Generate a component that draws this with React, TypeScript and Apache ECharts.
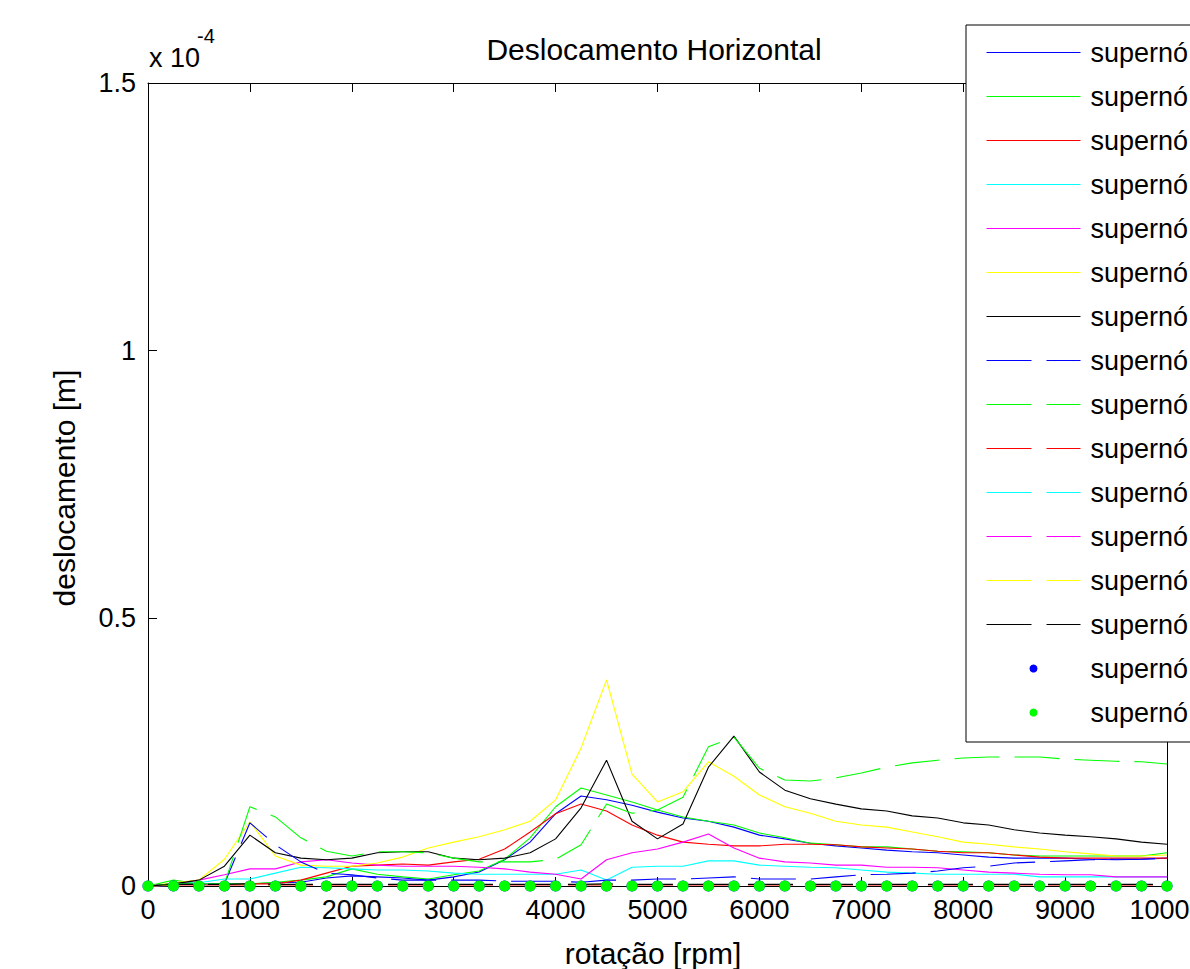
import React, { useEffect, useRef } from "react";
import * as echarts from "echarts";

// rotação [rpm]
const rpm = [0, 250, 500, 750, 1000, 1250, 1500, 1750, 2000, 2250, 2500, 2750, 3000, 3250, 3500, 3750, 4000, 4250, 4500, 4750, 5000, 5250, 5500, 5750, 6000, 6250, 6500, 6750, 7000, 7250, 7500, 7750, 8000, 8250, 8500, 8750, 9000, 9250, 9500, 9750, 10000];

// deslocamento, in units of 1e-4 m
const blueSolid = [0, 0.004, 0.004, 0.004, 0.004, 0.006, 0.007, 0.015, 0.019, 0.017, 0.015, 0.011, 0.017, 0.026, 0.049, 0.082, 0.135, 0.168, 0.161, 0.151, 0.138, 0.127, 0.121, 0.110, 0.095, 0.088, 0.080, 0.075, 0.071, 0.067, 0.064, 0.062, 0.058, 0.054, 0.052, 0.052, 0.052, 0.050, 0.049, 0.050, 0.052];
const greenSolid = [0, 0.011, 0.004, 0.004, 0.004, 0.007, 0.011, 0.017, 0.032, 0.022, 0.017, 0.013, 0.021, 0.028, 0.050, 0.090, 0.148, 0.183, 0.170, 0.157, 0.142, 0.129, 0.121, 0.114, 0.099, 0.090, 0.080, 0.077, 0.073, 0.073, 0.069, 0.065, 0.064, 0.062, 0.058, 0.056, 0.056, 0.056, 0.056, 0.056, 0.062];
const redSolid = [0, 0.002, 0.002, 0.002, 0.004, 0.004, 0.011, 0.024, 0.037, 0.039, 0.041, 0.039, 0.045, 0.050, 0.069, 0.101, 0.135, 0.153, 0.140, 0.114, 0.095, 0.082, 0.078, 0.075, 0.075, 0.078, 0.078, 0.077, 0.073, 0.071, 0.069, 0.065, 0.062, 0.062, 0.058, 0.054, 0.052, 0.052, 0.052, 0.052, 0.052];
const cyanSolid = [0, 0.004, 0.006, 0.013, 0.013, 0.024, 0.035, 0.034, 0.032, 0.030, 0.030, 0.028, 0.024, 0.022, 0.022, 0.022, 0.022, 0.030, 0.011, 0.035, 0.037, 0.037, 0.047, 0.047, 0.039, 0.037, 0.035, 0.034, 0.030, 0.026, 0.024, 0.022, 0.022, 0.022, 0.022, 0.017, 0.017, 0.017, 0.017, 0.017, 0.017];
const magentaSolid = [0, 0.004, 0.011, 0.021, 0.032, 0.032, 0.045, 0.049, 0.043, 0.039, 0.037, 0.037, 0.037, 0.035, 0.032, 0.026, 0.022, 0.013, 0.049, 0.062, 0.069, 0.082, 0.097, 0.071, 0.052, 0.045, 0.043, 0.039, 0.039, 0.035, 0.035, 0.034, 0.030, 0.026, 0.024, 0.022, 0.021, 0.021, 0.017, 0.017, 0.017];
const yellowSolid = [0, 0.006, 0.011, 0.050, 0.120, 0.056, 0.039, 0.037, 0.037, 0.043, 0.054, 0.071, 0.082, 0.092, 0.105, 0.121, 0.161, 0.258, 0.385, 0.209, 0.157, 0.176, 0.232, 0.205, 0.170, 0.148, 0.136, 0.121, 0.114, 0.110, 0.101, 0.092, 0.082, 0.078, 0.073, 0.069, 0.064, 0.060, 0.056, 0.056, 0.058];
const blackSolid = [0, 0.004, 0.011, 0.037, 0.095, 0.062, 0.052, 0.049, 0.052, 0.062, 0.064, 0.064, 0.052, 0.049, 0.052, 0.062, 0.088, 0.146, 0.235, 0.121, 0.088, 0.116, 0.222, 0.280, 0.213, 0.179, 0.163, 0.153, 0.144, 0.140, 0.131, 0.127, 0.118, 0.114, 0.105, 0.099, 0.095, 0.092, 0.088, 0.082, 0.078];
const blueDashed = [0, 0.004, 0.004, 0.004, 0.118, 0.077, 0.045, 0.024, 0.021, 0.015, 0.011, 0.011, 0.011, 0.011, 0.009, 0.009, 0.009, 0.007, 0.011, 0.011, 0.013, 0.013, 0.015, 0.017, 0.013, 0.013, 0.013, 0.017, 0.021, 0.022, 0.024, 0.028, 0.034, 0.037, 0.043, 0.045, 0.047, 0.049, 0.050, 0.050, 0.052];
const greenDashed = [0, 0.004, 0.004, 0.004, 0.148, 0.129, 0.090, 0.065, 0.056, 0.064, 0.064, 0.062, 0.052, 0.045, 0.045, 0.045, 0.050, 0.077, 0.153, 0.136, 0.142, 0.166, 0.260, 0.278, 0.220, 0.198, 0.196, 0.202, 0.211, 0.222, 0.230, 0.235, 0.239, 0.241, 0.241, 0.241, 0.237, 0.235, 0.233, 0.232, 0.228];
const redDashed = [0, 0.002, 0.002, 0.002, 0.003, 0.002, 0.002, 0.002, 0.002, 0.002, 0.002, 0.002, 0.002, 0.002, 0.002, 0.002, 0.002, 0.002, 0.003, 0.002, 0.002, 0.002, 0.002, 0.002, 0.002, 0.002, 0.002, 0.002, 0.002, 0.002, 0.002, 0.002, 0.002, 0.002, 0.002, 0.002, 0.002, 0.002, 0.002, 0.002, 0.002];
const cyanDashed = [0, 0.001, 0.001, 0.001, 0.002, 0.001, 0.001, 0.001, 0.001, 0.001, 0.001, 0.001, 0.001, 0.001, 0.001, 0.001, 0.001, 0.001, 0.002, 0.001, 0.001, 0.001, 0.001, 0.001, 0.001, 0.001, 0.001, 0.001, 0.001, 0.001, 0.001, 0.001, 0.001, 0.001, 0.001, 0.001, 0.001, 0.001, 0.001, 0.001, 0.001];
const magentaDashed = [0, 0.001, 0.001, 0.001, 0.001, 0.001, 0.001, 0.001, 0.001, 0.001, 0.001, 0.001, 0.001, 0.001, 0.001, 0.001, 0.001, 0.001, 0.001, 0.001, 0.001, 0.001, 0.001, 0.001, 0.001, 0.001, 0.001, 0.001, 0.001, 0.001, 0.001, 0.001, 0.001, 0.001, 0.001, 0.001, 0.001, 0.001, 0.001, 0.001, 0.001];
const yellowDashed = [0, 0.002, 0.002, 0.002, 0.002, 0.002, 0.002, 0.002, 0.002, 0.002, 0.002, 0.002, 0.002, 0.002, 0.002, 0.002, 0.002, 0.002, 0.002, 0.002, 0.002, 0.002, 0.002, 0.002, 0.002, 0.002, 0.002, 0.002, 0.002, 0.002, 0.002, 0.002, 0.002, 0.002, 0.002, 0.002, 0.002, 0.002, 0.002, 0.002, 0.002];
const blackDashed = [0, 0.003, 0.003, 0.003, 0.004, 0.003, 0.003, 0.003, 0.003, 0.003, 0.003, 0.003, 0.003, 0.003, 0.003, 0.003, 0.003, 0.003, 0.004, 0.003, 0.003, 0.003, 0.003, 0.003, 0.003, 0.003, 0.003, 0.003, 0.003, 0.003, 0.003, 0.003, 0.003, 0.003, 0.003, 0.003, 0.003, 0.003, 0.003, 0.003, 0.003];
const blueDots = [0, 0, 0, 0, 0, 0, 0, 0, 0, 0, 0, 0, 0, 0, 0, 0, 0, 0, 0, 0, 0, 0, 0, 0, 0, 0, 0, 0, 0, 0, 0, 0, 0, 0, 0, 0, 0, 0, 0, 0, 0];
const greenDots = [0, 0, 0, 0, 0, 0, 0, 0, 0, 0, 0, 0, 0, 0, 0, 0, 0, 0, 0, 0, 0, 0, 0, 0, 0, 0, 0, 0, 0, 0, 0, 0, 0, 0, 0, 0, 0, 0, 0, 0, 0];

const seriesNames = [
  "supernó 1", "supernó 2", "supernó 3", "supernó 4", "supernó 5", "supernó 6", "supernó 7",
  "supernó 8", "supernó 9", "supernó 10", "supernó 11", "supernó 12", "supernó 13", "supernó 14",
  "supernó 15", "supernó 16",
];
const seriesValues = [
  blueSolid, greenSolid, redSolid, cyanSolid, magentaSolid, yellowSolid, blackSolid,
  blueDashed, greenDashed, redDashed, cyanDashed, magentaDashed, yellowDashed, blackDashed,
  blueDots, greenDots,
];
const seriesColors = [
  "#0000ff", "#00ff00", "#ff0000", "#00ffff", "#ff00ff", "#ffff00", "#000000",
  "#0000ff", "#00ff00", "#ff0000", "#00ffff", "#ff00ff", "#ffff00", "#000000",
  "#0000ff", "#00ff00",
];
// 0 = solid, 1 = dashed, 2 = dots
const seriesKind = [0, 0, 0, 0, 0, 0, 0, 1, 1, 1, 1, 1, 1, 1, 2, 2];

const xTicks = [0, 1000, 2000, 3000, 4000, 5000, 6000, 7000, 8000, 9000, 10000];
const yTicks = [0, 0.5, 1, 1.5];

const FONT = "'Liberation Sans', Arial, Helvetica, sans-serif";

export default function App() {
  const ref = useRef<HTMLDivElement>(null);

  useEffect(() => {
    if (!ref.current) return;
    const chart = echarts.init(ref.current, null, { renderer: "svg" });

    const gridLeft = 148;
    const gridTop = 83;
    const gridWidth = 1019;
    const gridHeight = 803;

    const series: any[] = seriesValues.map((vals, i) => {
      const kind = seriesKind[i];
      const data = rpm.map((x, j) => [x, vals[j]]);
      if (kind === 2) {
        return {
          name: seriesNames[i],
          type: "line",
          data,
          clip: false,
          symbol: "circle",
          symbolSize: 11,
          showSymbol: true,
          itemStyle: { color: seriesColors[i] },
          lineStyle: { width: 0, opacity: 0 },
          z: 5 + i,
        };
      }
      return {
        name: seriesNames[i],
        type: "line",
        data,
        clip: false,
        symbol: "none",
        showSymbol: false,
        itemStyle: { color: seriesColors[i] },
        lineStyle: {
          color: seriesColors[i],
          width: 1.1,
          type: kind === 1 ? [45, 15] : "solid",
        },
        z: 2 + i * 0.01,
      };
    });

    const axisCommon = {
      axisLine: { show: true, onZero: false, lineStyle: { color: "#000", width: 1 } },
      axisTick: { show: true, inside: true, length: 9, lineStyle: { color: "#000", width: 1 } },
      splitLine: { show: false },
    };

    const option: any = {
      animation: false,
      backgroundColor: "#ffffff",
      grid: {
        left: gridLeft,
        top: gridTop,
        width: gridWidth,
        height: gridHeight,
        containLabel: false,
        outerBoundsMode: "none",
      },
      xAxis: [
        {
          type: "value",
          min: xTicks[0],
          max: xTicks[xTicks.length - 1],
          interval: xTicks[1] - xTicks[0],
          position: "bottom",
          ...axisCommon,
          axisLabel: {
            show: true,
            margin: 10,
            color: "#000",
            fontSize: 27,
            fontFamily: FONT,
            hideOverlap: false,
            formatter: (v: number) => String(v),
          },
        },
        {
          type: "value",
          min: xTicks[0],
          max: xTicks[xTicks.length - 1],
          interval: xTicks[1] - xTicks[0],
          position: "top",
          ...axisCommon,
          axisLabel: { show: false },
        },
      ],
      yAxis: [
        {
          type: "value",
          min: yTicks[0],
          max: yTicks[yTicks.length - 1],
          interval: yTicks[1] - yTicks[0],
          position: "left",
          ...axisCommon,
          axisLabel: {
            show: true,
            margin: 12,
            color: "#000",
            fontSize: 27,
            fontFamily: FONT,
            formatter: (v: number) => String(Number(v.toFixed(3))),
          },
        },
        {
          type: "value",
          min: yTicks[0],
          max: yTicks[yTicks.length - 1],
          interval: yTicks[1] - yTicks[0],
          position: "right",
          ...axisCommon,
          axisLabel: { show: false },
        },
      ],
      legend: {
        show: true,
        orient: "vertical",
        left: 966,
        top: 25,
        padding: [12, 20, 14, 20],
        itemWidth: 94,
        itemHeight: 10,
        itemGap: 13,
        backgroundColor: "#ffffff",
        borderColor: "#000000",
        borderWidth: 1,
        borderRadius: 0,
        selectedMode: false,
        lineStyle: { width: 1 },
        textStyle: {
          color: "#000",
          fontSize: 27,
          fontFamily: FONT,
          lineHeight: 31,
          padding: [0, 0, 0, 5],
        },
        data: seriesNames.map((n, i) =>
          seriesKind[i] === 2
            ? { name: n, lineStyle: { opacity: 0, width: 0 } }
            : { name: n, itemStyle: { opacity: 0 } }
        ),
      },
      graphic: [
        {
          type: "text",
          x: 654,
          y: 49,
          style: {
            text: "Deslocamento Horizontal",
            font: `30px ${FONT}`,
            fill: "#000",
            textAlign: "center",
            textVerticalAlign: "middle",
          },
        },
        {
          type: "text",
          x: 149,
          y: 58,
          style: {
            text: "x 10",
            font: `27px ${FONT}`,
            fill: "#000",
            textAlign: "left",
            textVerticalAlign: "middle",
          },
        },
        {
          type: "text",
          x: 197,
          y: 36,
          style: {
            text: "-4",
            font: `20px ${FONT}`,
            fill: "#000",
            textAlign: "left",
            textVerticalAlign: "middle",
          },
        },
        {
          type: "text",
          x: 653,
          y: 953,
          style: {
            text: "rotação [rpm]",
            font: `30px ${FONT}`,
            fill: "#000",
            textAlign: "center",
            textVerticalAlign: "middle",
          },
        },
        {
          type: "text",
          x: 64,
          y: 488,
          rotation: Math.PI / 2,
          style: {
            text: "deslocamento [m]",
            font: `30px ${FONT}`,
            fill: "#000",
            textAlign: "center",
            textVerticalAlign: "middle",
          },
        },
      ],
      series,
    };

    chart.setOption(option);
    return () => chart.dispose();
  }, []);

  return (
    <div
      ref={ref}
      style={{ position: "fixed", left: 0, top: 0, width: 1190, height: 969, background: "#ffffff" }}
    />
  );
}
